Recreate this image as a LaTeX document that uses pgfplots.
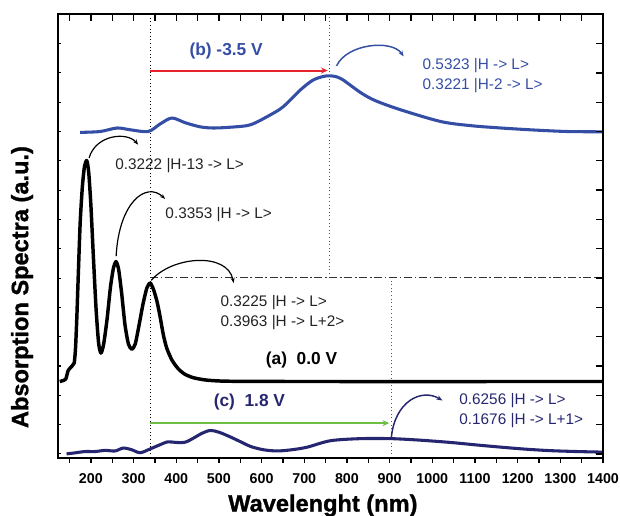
\documentclass[border=0pt]{standalone}
\usepackage{pgfplots}
\pgfplotsset{compat=1.18}
\usepackage{fontspec}
\setmainfont{Liberation Sans}
\usetikzlibrary{arrows.meta}
\definecolor{blueb}{RGB}{52,78,165}
\definecolor{navyc}{RGB}{38,38,112}
\definecolor{redarr}{RGB}{232,35,45}
\definecolor{greenarr}{RGB}{110,190,70}
\definecolor{annot}{RGB}{35,35,35}
\newfontfamily\heavyfont[FakeBold=1.2]{Liberation Sans Bold}
\begin{document}
\begin{tikzpicture}
% main axis: data, bottom ticks (outside), labels
\begin{axis}[
    width=408.75pt, height=333pt, scale only axis,
    xmin=123, xmax=1400,
    ymin=-0.14, ymax=15.01,
    axis line style={line width=1.6pt},
    xtick={200,300,...,1400},
    minor xtick={150,250,...,1350},
    xtick pos=bottom,
    tick align=outside,
    major tick length=3.75pt, minor tick length=3.75pt,
    every tick/.style={black, line width=1pt},
    ytick=\empty,
    /pgf/number format/assume math mode=true,
    /pgf/number format/1000 sep={},
    xticklabel style={font=\bfseries\fontsize{10.7}{12}\selectfont, yshift=-4.5pt},
    xlabel={Wavelenght (nm)},
    ylabel={Absorption Spectra (a.u.)},
    xlabel style={font=\heavyfont\fontsize{17.7}{20}\selectfont, at={(axis description cs:0.486,-0.107)}, anchor=center},
    ylabel style={font=\heavyfont\fontsize{17.7}{20}\selectfont, at={(axis description cs:-0.066,0.385)}, anchor=center},
]
\coordinate (bl) at (rel axis cs:0,0);
\coordinate (tr) at (rel axis cs:1,1);

% reference lines
\draw[black, dotted, line width=0.7pt] (axis cs:339,-0.14) -- (axis cs:339,15.01);
\draw[blueb, dotted, line width=0.7pt] (axis cs:760,6.02) -- (axis cs:760,15.01);
\draw[navyc!80, dotted, line width=0.7pt] (axis cs:904,-0.14) -- (axis cs:904,6.02);
\draw[black!80, line width=0.8pt, dash pattern=on 6pt off 2pt on 1.2pt off 2pt] (axis cs:339,6.02) -- (axis cs:1400,6.02);

% (a) 0.0 V
\addplot[black, line width=2.6pt, smooth, tension=0.4, line join=round] coordinates {
(127,2.47) (132,2.49) (141,2.55) (147,2.85) (156,3.0) (161,3.1) (164,3.6)
(167,4.6) (170.7,6.18) (175,7.9) (180,9.1) (185,9.8) (190.4,10.01) (195,9.6)
(200,8.5) (206,6.7) (212,5.0) (218,3.8) (223.6,3.44) (230,3.75) (238,4.6)
(246,5.7) (253,6.35) (259,6.56) (265,6.3) (272,5.5) (280,4.4) (288,3.75)
(296,3.57) (304,3.75) (313,4.4) (322,5.1) (331,5.65) (339,5.83) (347,5.6)
(355,5.2) (362,4.7) (370,4.05) (378,3.6) (390,3.2) (405,2.9) (420,2.72)
(440,2.6) (470,2.52) (520,2.48) (700,2.47) (1400,2.47)
};
% (b) -3.5 V
\addplot[blueb, line width=2.3pt, smooth] coordinates {
(174.7,10.97) (221.6,11.0) (261.5,11.12) (292,11.06) (334.3,11.0) (362.5,11.26)
(390,11.46) (421,11.30) (456,11.16) (487,11.12) (530,11.15) (574,11.23)
(620.8,11.57) (651,11.85) (691,12.42) (720,12.75) (745,12.88) (760,12.9)
(775,12.87) (790,12.77) (808,12.58) (835,12.3) (867,12.05) (926,11.74)
(1020,11.34) (1090,11.2) (1160.8,11.12) (1240,11.05) (1317,11.0) (1400,10.99)
};
% (c) 1.8 V
\addplot[navyc, line width=2.3pt, smooth] coordinates {
(143,0.0) (160,0.03) (186,0.08) (210,0.08) (233,0.12) (256.8,0.10) (276,0.2)
(296,0.14) (315.5,0.04) (339,0.17) (360,0.3) (380,0.41) (400,0.39) (421,0.40)
(440.7,0.54) (460,0.7) (480,0.8) (500,0.74) (525,0.59) (550,0.42) (575,0.25)
(605,0.14) (636.5,0.10) (670,0.14) (707,0.23) (761.6,0.45) (832,0.52) (904,0.52)
(970,0.47) (1043,0.39) (1100,0.31) (1160.8,0.23) (1220,0.16) (1278,0.11) (1340,0.08) (1400,0.06)
};

% straight arrows
\draw[redarr, line width=1.5pt, -{Stealth[length=5pt,width=4.5pt]}] (axis cs:339,13.08) -- (axis cs:755,13.08);
\draw[greenarr, line width=1.5pt, -{Stealth[length=5pt,width=4.5pt]}] (axis cs:339,1.05) -- (axis cs:899,1.05);

% curved arrows
\draw[black, line width=0.9pt, -{Stealth[length=4pt]}] (axis cs:195.8,10.1) .. controls (axis cs:212,10.9) and (axis cs:285,11.0) .. (axis cs:310.8,10.55);
\draw[black, line width=0.9pt, -{Stealth[length=4pt]}] (axis cs:259.2,6.75) .. controls (axis cs:266,8.6) and (axis cs:330,9.3) .. (axis cs:374,8.7);
\draw[black, line width=0.9pt, -{Stealth[length=4pt]}] (axis cs:341.4,5.92) .. controls (axis cs:390,6.75) and (axis cs:520,6.9) .. (axis cs:534.6,5.83);
\draw[blueb, line width=1.1pt, -{Stealth[length=4.5pt]}] (axis cs:775.7,13.24) .. controls (axis cs:800,14.0) and (axis cs:905,14.15) .. (axis cs:933,13.56);
\draw[navyc, line width=1.1pt, -{Stealth[length=4.5pt]}] (axis cs:904,0.55) .. controls (axis cs:912,1.8) and (axis cs:975,2.25) .. (axis cs:1023.9,1.82);

% annotations
\begin{scope}[every node/.style={inner sep=0pt, font=\fontsize{11.5}{15}\selectfont}]
\node[anchor=west, annot] at (axis cs:256.8,9.84) {0.3222 |H-13 -> L>};
\node[anchor=west, annot] at (axis cs:374.2,8.18) {0.3353 |H -> L>};
\node[anchor=west, align=left, annot] at (axis cs:503.4,4.82) {0.3225 |H -> L>\\0.3963 |H -> L+2>};
\node[anchor=west, align=left, blueb] at (axis cs:976.9,12.91) {0.5323 |H -> L>\\0.3221 |H-2 -> L>};
\node[anchor=west, align=left, navyc] at (axis cs:1062.9,1.48) {0.6256 |H -> L>\\0.1676 |H -> L+1>};
\end{scope}
\node[blueb, font=\bfseries\fontsize{13}{15}\selectfont] at (axis cs:517,13.73) {(b) -3.5 V};
\node[black, font=\bfseries\fontsize{13}{15}\selectfont] at (axis cs:693.6,3.21) {(a)\ \ 0.0 V};
\node[navyc, font=\bfseries\fontsize{13}{15}\selectfont] at (axis cs:571.5,1.77) {(c)\ \ 1.8 V};
\end{axis}

% top and right ticks (inside)
\begin{axis}[
    width=408.75pt, height=333pt, scale only axis,
    xmin=123, xmax=1400, ymin=-0.14, ymax=15.01,
    axis line style={line width=1.6pt},
    xtick={150,200,...,1400}, xticklabels={},
    ytick={0,1,...,14}, yticklabels={},
    xtick pos=top, ytick pos=right,
    tick align=inside,
    major tick length=5pt,
    every tick/.style={black, line width=1pt},
]
\end{axis}

% left ticks (short, inside)
\begin{axis}[
    width=408.75pt, height=333pt, scale only axis,
    xmin=123, xmax=1400, ymin=-0.14, ymax=15.01,
    axis line style={line width=1.6pt},
    xtick=\empty,
    ytick={0,1,...,14}, yticklabels={},
    ytick pos=left,
    tick align=inside,
    major tick length=2.5pt,
    every tick/.style={black, line width=0.8pt},
]
\end{axis}

\pgfresetboundingbox
\path[use as bounding box] ([shift={(-43.5pt,-43.5pt)}]bl) rectangle ([shift={(12.75pt,10.5pt)}]tr);
\end{tikzpicture}
\end{document}
